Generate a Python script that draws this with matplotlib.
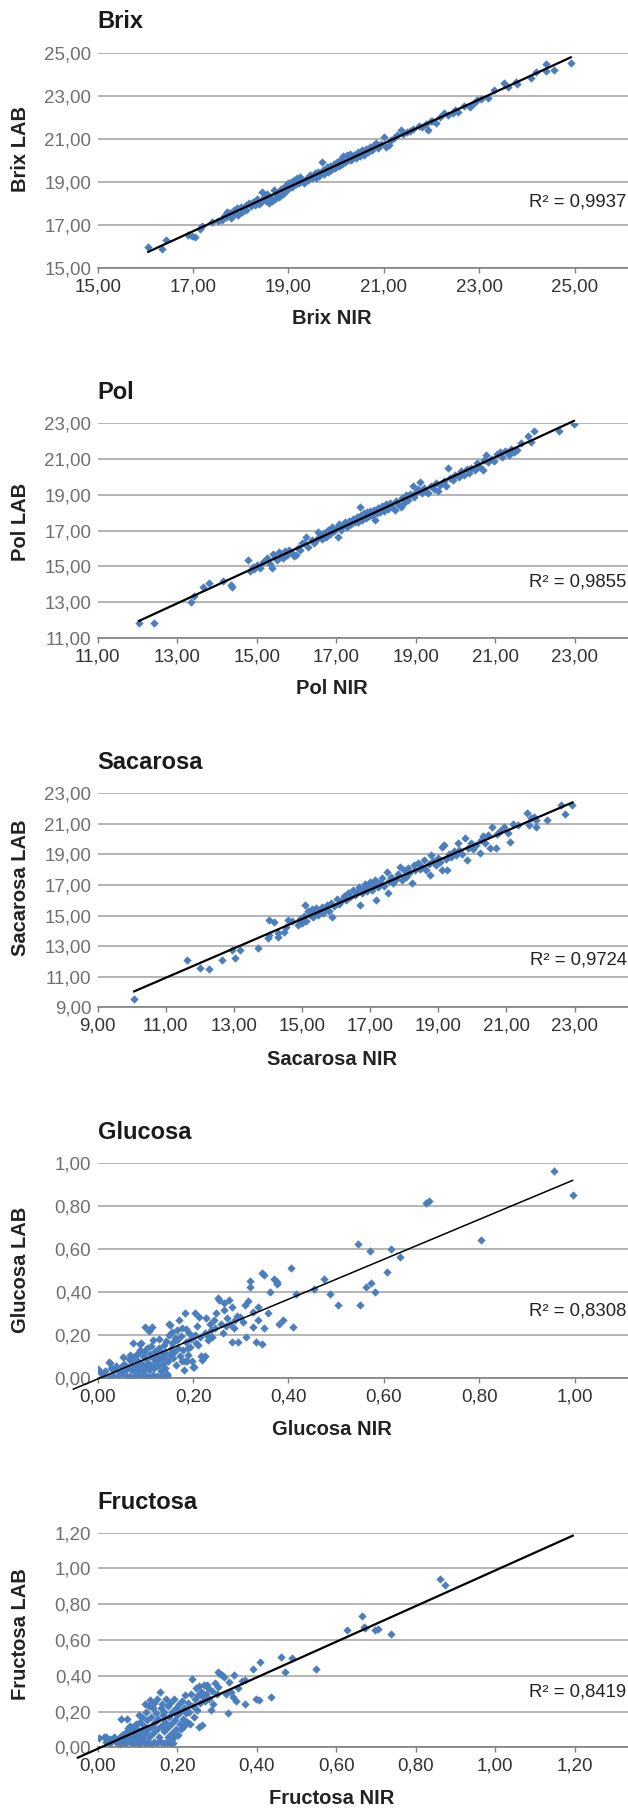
import numpy as np
import matplotlib
matplotlib.use("Agg")
import matplotlib.pyplot as plt
from matplotlib.ticker import FuncFormatter

plt.rcParams['font.family'] = ['Liberation Sans', 'DejaVu Sans']

# ---- data: (NIR, LAB) ----
brix_pts = [
    (16.06,15.98),(16.35,15.88),(16.44,16.30),(16.90,16.53),(16.98,16.50),(17.05,16.47),(17.15,16.82),(17.18,16.95),
    (17.40,17.17),(17.52,17.20),(17.61,17.25),(17.65,17.45),(17.70,17.40),(17.72,17.62),(17.78,17.55),(17.80,17.35),
    (17.85,17.70),(17.88,17.52),(17.92,17.80),(17.95,17.48),(18.00,17.85),(18.02,17.62),(18.05,17.75),(18.10,17.95),
    (18.12,17.70),(18.18,18.05),(18.22,17.88),(18.25,18.10),(18.30,17.95),(18.35,18.20),(18.38,17.98),(18.42,18.10),
    (18.45,18.57),(18.48,18.30),(18.52,18.15),(18.55,18.45),(18.60,18.05),(18.62,18.30),(18.66,18.15),(18.70,18.65),
    (18.72,18.20),(18.75,18.40),(18.80,18.30),(18.82,18.55),(18.85,18.70),(18.88,18.45),(18.92,18.85),(18.95,18.60),
    (19.00,18.95),(19.02,18.72),(19.05,19.02),(19.08,18.80),(19.12,19.10),(19.15,18.90),(19.18,19.18),(19.22,18.95),
    (19.25,19.25),(19.30,19.05),(19.33,18.95),(19.38,19.20),(19.42,19.10),(19.45,19.35),(19.50,19.22),(19.55,19.45),
    (19.58,19.18),(19.62,19.50),(19.65,19.30),(19.71,19.93),(19.72,19.55),(19.75,19.40),(19.80,19.70),(19.82,19.50),
    (19.88,19.75),(19.90,19.58),(19.95,19.85),(19.98,19.65),(20.02,19.95),(20.05,19.78),(20.10,20.10),(20.12,19.85),
    (20.15,20.20),(20.18,19.95),(20.22,20.25),(20.25,20.02),(20.30,20.30),(20.32,20.05),(20.38,20.28),(20.42,20.12),
    (20.45,20.42),(20.50,20.20),(20.55,20.48),(20.58,20.25),(20.62,20.55),(20.66,20.40),(20.72,20.62),(20.75,20.50),
    (20.80,20.75),(20.84,20.84),(20.88,20.60),(20.95,20.80),(21.01,21.12),(21.05,20.66),(21.10,20.75),(21.15,20.95),
    (21.22,21.05),(21.28,21.20),(21.35,21.43),(21.40,21.25),(21.48,21.35),(21.55,21.40),(21.62,21.50),(21.73,21.62),
    (21.80,21.55),(21.88,21.72),(21.93,21.43),(21.98,21.85),(22.02,21.87),(22.10,21.75),(22.18,22.05),(22.27,22.21),
    (22.35,22.15),(22.44,22.21),(22.50,22.35),(22.55,22.25),(22.69,22.55),(22.80,22.50),(22.90,22.67),(22.95,22.85),
    (23.03,22.86),(23.19,22.91),(23.32,23.29),(23.53,23.64),(23.60,23.42),(23.78,23.68),(23.80,23.58),(24.08,23.87),
    (24.20,24.12),(24.41,24.49),(24.41,24.19),(24.56,24.22),(24.92,24.57),
]

pol_pts = [
    (12.04,11.87),(12.42,11.83),(13.34,13.00),(13.41,13.36),(13.66,13.88),(13.80,14.06),(14.15,14.21),(14.36,13.97),
    (14.38,13.88),(14.77,15.36),(14.84,14.77),(14.90,14.95),(14.94,14.84),(15.00,15.10),(15.09,14.90),(15.15,15.25),
    (15.25,15.45),(15.34,15.14),(15.39,14.90),(15.42,15.70),(15.45,15.55),(15.50,15.35),(15.55,15.80),(15.60,15.60),
    (15.65,15.45),(15.70,15.85),(15.75,15.65),(15.82,15.90),(15.88,15.75),(15.95,15.60),(16.00,15.64),(16.05,16.05),
    (16.10,15.90),(16.15,16.30),(16.20,16.29),(16.25,16.66),(16.30,16.10),(16.38,16.45),(16.45,16.30),(16.50,16.47),
    (16.55,16.94),(16.60,16.70),(16.65,16.55),(16.70,16.85),(16.75,16.65),(16.80,17.05),(16.85,16.80),(16.90,17.20),
    (16.95,16.95),(17.00,17.15),(17.05,16.66),(17.08,17.35),(17.12,17.05),(17.18,17.30),(17.22,17.50),(17.28,17.20),
    (17.32,17.55),(17.38,17.35),(17.42,17.65),(17.48,17.45),(17.52,17.75),(17.56,17.50),(17.61,18.33),(17.62,17.85),
    (17.66,17.60),(17.70,17.95),(17.74,17.70),(17.78,18.05),(17.82,17.80),(17.86,18.10),(17.90,17.85),(17.95,18.15),
    (17.98,17.59),(18.03,17.95),(18.06,18.24),(18.10,18.05),(18.15,18.35),(18.20,18.10),(18.25,18.45),(18.30,18.20),
    (18.35,18.55),(18.40,18.30),(18.47,18.14),(18.50,18.65),(18.55,18.45),(18.62,18.33),(18.65,18.80),(18.70,18.55),
    (18.75,18.95),(18.80,18.70),(18.85,19.05),(18.92,19.48),(18.95,18.85),(19.00,19.15),(19.05,19.30),(19.12,19.72),
    (19.15,19.10),(19.22,19.35),(19.28,19.15),(19.32,19.07),(19.38,19.50),(19.45,19.30),(19.52,19.65),(19.57,19.22),
    (19.62,19.55),(19.70,19.75),(19.75,19.45),(19.81,20.46),(19.85,19.90),(19.93,19.81),(20.00,20.10),(20.08,19.95),
    (20.15,20.30),(20.22,20.10),(20.28,20.40),(20.33,20.18),(20.40,20.50),(20.48,20.35),(20.55,20.75),(20.62,20.55),
    (20.68,20.37),(20.72,20.90),(20.78,21.20),(20.82,20.80),(20.90,21.00),(20.98,20.85),(21.05,21.25),(21.12,21.35),
    (21.18,21.11),(21.25,21.40),(21.34,21.20),(21.40,21.55),(21.48,21.35),(21.54,21.48),(21.64,21.89),(21.82,22.26),
    (21.89,21.95),(21.97,22.54),(22.60,22.54),(22.98,22.93),
]

sacarosa_pts = [
    (10.07,9.52),(11.61,12.10),(12.01,11.55),(12.28,11.51),(12.66,12.10),(12.95,12.75),(13.03,12.25),(13.18,12.75),
    (13.71,12.86),(14.03,14.71),(14.01,13.51),(14.03,13.73),(14.18,14.60),(14.30,13.62),(14.30,13.84),(14.48,13.95),
    (14.54,14.28),(14.60,14.71),(14.70,14.65),(14.89,14.38),(14.95,14.80),(15.01,14.49),(15.05,14.95),(15.09,15.69),
    (15.12,14.65),(15.18,15.30),(15.22,15.05),(15.28,15.45),(15.32,14.90),(15.38,15.20),(15.42,15.50),(15.48,15.05),
    (15.52,15.35),(15.58,15.55),(15.62,15.15),(15.68,15.47),(15.72,15.70),(15.78,15.30),(15.85,15.80),(15.89,14.93),
    (15.95,15.60),(16.02,16.10),(16.08,15.75),(16.15,15.95),(16.22,16.30),(16.30,16.00),(16.36,16.45),(16.42,16.20),
    (16.50,16.65),(16.55,16.35),(16.62,16.55),(16.68,16.90),(16.71,15.69),(16.75,16.45),(16.80,16.75),(16.85,17.05),
    (16.90,16.60),(16.95,16.95),(17.00,17.20),(17.05,16.70),(17.10,17.00),(17.15,17.30),(17.18,16.02),(17.22,16.85),
    (17.28,17.15),(17.35,17.45),(17.40,16.95),(17.48,17.87),(17.51,16.46),(17.55,17.25),(17.62,17.55),(17.68,17.10),
    (17.75,17.40),(17.82,17.70),(17.89,18.20),(17.92,17.30),(17.98,17.95),(18.05,17.55),(18.10,18.10),(18.15,17.80),
    (18.24,17.11),(18.28,18.30),(18.32,17.95),(18.40,18.45),(18.45,18.05),(18.52,18.20),(18.59,18.64),(18.65,18.00),
    (18.72,18.40),(18.77,17.65),(18.80,18.95),(18.85,18.55),(18.92,18.30),(18.98,18.75),(19.05,18.50),(19.12,17.98),
    (19.12,19.51),(19.18,19.62),(19.22,18.70),(19.27,17.98),(19.30,19.05),(19.38,18.85),(19.45,19.20),(19.52,18.95),
    (19.59,19.73),(19.62,19.30),(19.70,19.05),(19.77,20.05),(19.83,18.64),(19.88,19.45),(19.95,19.75),(20.02,19.35),
    (20.10,19.65),(20.21,19.07),(20.24,19.94),(20.30,20.20),(20.38,19.75),(20.45,20.25),(20.53,19.40),(20.59,20.82),
    (20.68,19.40),(20.72,20.35),(20.80,20.55),(20.94,20.82),(21.06,20.38),(21.12,19.83),(21.20,21.00),(21.35,20.95),
    (21.59,21.69),(21.65,20.92),(21.72,21.40),(21.82,21.47),(21.88,20.82),(21.88,21.25),(22.18,21.25),(22.59,22.23),
    (22.73,21.62),(22.94,22.23),
]

glucosa_pts = [
    (-0.051,0.000),
    (0.012,0.008),(0.022,0.004),(0.031,0.012),(0.043,0.006),(0.052,0.015),(0.061,0.003),(0.068,0.010),(0.077,0.005),
    (0.086,0.014),(0.093,0.002),(0.101,0.009),(0.108,0.004),(0.117,0.012),(0.124,0.006),(0.131,0.003),(0.138,0.010),
    (0.146,0.007),(0.145,0.018),
    (0.000,0.039),(0.005,0.025),(0.015,0.030),(0.024,0.075),(0.025,0.068),(0.028,0.045),(0.035,0.035),(0.038,0.055),
    (0.045,0.025),(0.048,0.048),(0.054,0.098),(0.055,0.065),(0.058,0.032),(0.062,0.052),(0.065,0.085),(0.068,0.106),
    (0.070,0.040),(0.072,0.070),(0.075,0.160),(0.076,0.095),(0.078,0.025),(0.080,0.055),(0.082,0.110),(0.084,0.080),
    (0.086,0.040),(0.088,0.130),(0.089,0.157),(0.091,0.160),(0.092,0.065),(0.094,0.100),(0.095,0.030),(0.097,0.120),
    (0.099,0.050),(0.100,0.238),(0.101,0.085),(0.103,0.140),(0.105,0.070),(0.107,0.219),(0.108,0.035),(0.109,0.110),
    (0.111,0.060),(0.112,0.150),(0.114,0.238),(0.115,0.090),(0.117,0.176),(0.118,0.045),(0.120,0.125),(0.122,0.075),
    (0.124,0.100),(0.126,0.055),(0.128,0.182),(0.129,0.140),(0.131,0.085),(0.133,0.030),(0.134,0.115),(0.136,0.065),
    (0.138,0.153),(0.139,0.095),(0.141,0.045),(0.142,0.121),(0.144,0.170),(0.145,0.013),(0.147,0.080),(0.149,0.199),
    (0.150,0.249),(0.151,0.105),(0.152,0.246),(0.154,0.135),(0.156,0.215),(0.156,0.160),(0.158,0.090),(0.160,0.120),
    (0.162,0.185),(0.164,0.060),(0.166,0.176),(0.167,0.222),(0.169,0.140),(0.171,0.269),(0.172,0.100),(0.174,0.195),
    (0.176,0.080),(0.177,0.230),(0.179,0.129),(0.181,0.036),(0.183,0.079),(0.184,0.300),(0.185,0.165),(0.186,0.229),
    (0.188,0.080),(0.189,0.106),(0.190,0.140),(0.192,0.210),(0.194,0.145),(0.196,0.180),(0.198,0.080),(0.200,0.048),
    (0.201,0.051),(0.203,0.200),(0.205,0.300),(0.207,0.160),(0.209,0.240),(0.211,0.153),(0.213,0.285),(0.215,0.192),
    (0.217,0.101),(0.219,0.082),(0.222,0.098),(0.224,0.210),(0.225,0.101),(0.228,0.277),(0.230,0.200),(0.232,0.176),
    (0.235,0.250),(0.238,0.222),(0.240,0.190),(0.244,0.269),(0.246,0.230),(0.249,0.300),(0.253,0.370),(0.255,0.362),
    (0.258,0.250),(0.262,0.210),(0.264,0.316),(0.265,0.350),(0.268,0.240),(0.272,0.280),(0.275,0.362),(0.278,0.250),
    (0.282,0.331),(0.282,0.168),(0.286,0.230),(0.288,0.270),(0.292,0.290),(0.295,0.168),(0.299,0.285),(0.305,0.260),
    (0.309,0.339),(0.311,0.188),(0.316,0.359),(0.319,0.421),(0.320,0.451),(0.326,0.238),(0.326,0.308),(0.332,0.168),
    (0.337,0.269),(0.337,0.328),(0.345,0.157),(0.345,0.490),(0.348,0.479),(0.349,0.230),(0.358,0.300),(0.362,0.400),
    (0.369,0.462),(0.376,0.435),(0.377,0.448),(0.381,0.249),(0.389,0.269),(0.406,0.510),(0.410,0.238),(0.415,0.390),
    (0.453,0.412),(0.474,0.462),(0.488,0.390),(0.503,0.339),(0.545,0.622),(0.549,0.339),(0.563,0.421),(0.572,0.593),
    (0.573,0.443),(0.581,0.401),(0.606,0.491),(0.615,0.602),(0.633,0.561),(0.689,0.813),(0.695,0.824),(0.803,0.642),
    (0.956,0.966),(0.996,0.854),
]

fructosa_pts = [
    (-0.050,0.000),
    (0.020,0.030),(0.030,0.022),(0.045,0.028),(0.055,0.020),(0.065,0.030),(0.072,0.024),(0.080,0.032),(0.088,0.022),
    (0.095,0.028),(0.103,0.020),(0.110,0.030),(0.118,0.024),(0.126,0.028),(0.134,0.021),(0.142,0.030),(0.150,0.023),
    (0.158,0.027),(0.166,0.022),(0.174,0.029),(0.182,0.024),(0.190,0.026),
    (0.003,0.050),(0.015,0.055),(0.020,0.060),(0.030,0.045),(0.040,0.058),(0.048,0.040),(0.055,0.060),(0.059,0.156),
    (0.062,0.070),(0.066,0.045),(0.070,0.085),(0.074,0.160),(0.075,0.110),(0.078,0.060),(0.082,0.120),(0.085,0.090),
    (0.088,0.050),(0.090,0.115),(0.093,0.075),(0.096,0.130),(0.098,0.040),(0.100,0.100),(0.103,0.180),(0.105,0.065),
    (0.107,0.140),(0.110,0.090),(0.112,0.170),(0.114,0.050),(0.116,0.120),(0.118,0.240),(0.120,0.080),(0.122,0.200),
    (0.124,0.150),(0.126,0.100),(0.128,0.230),(0.130,0.060),(0.132,0.264),(0.134,0.170),(0.136,0.120),(0.138,0.220),
    (0.140,0.080),(0.142,0.250),(0.144,0.140),(0.146,0.190),(0.148,0.100),(0.150,0.270),(0.152,0.160),(0.155,0.060),
    (0.157,0.311),(0.158,0.220),(0.160,0.120),(0.162,0.240),(0.164,0.180),(0.166,0.090),(0.168,0.200),(0.170,0.140),
    (0.172,0.270),(0.174,0.110),(0.176,0.230),(0.178,0.060),(0.180,0.170),(0.182,0.250),(0.184,0.130),(0.186,0.080),
    (0.188,0.200),(0.190,0.050),(0.192,0.270),(0.194,0.150),(0.196,0.100),(0.198,0.220),(0.200,0.180),(0.202,0.070),
    (0.204,0.240),(0.206,0.130),(0.208,0.200),(0.210,0.100),(0.212,0.260),(0.214,0.160),(0.216,0.220),(0.218,0.120),
    (0.220,0.290),(0.222,0.190),(0.225,0.140),(0.228,0.250),(0.230,0.200),(0.232,0.130),(0.235,0.300),(0.238,0.380),
    (0.240,0.230),(0.242,0.170),(0.245,0.270),(0.248,0.330),(0.250,0.210),(0.252,0.290),(0.255,0.340),(0.256,0.116),
    (0.258,0.250),(0.260,0.310),(0.263,0.125),(0.263,0.302),(0.265,0.280),(0.268,0.350),(0.270,0.260),(0.272,0.300),
    (0.276,0.348),(0.278,0.330),(0.280,0.270),(0.285,0.209),(0.288,0.317),(0.290,0.240),(0.295,0.360),(0.300,0.300),
    (0.303,0.339),(0.303,0.419),(0.308,0.410),(0.313,0.404),(0.318,0.391),(0.322,0.300),(0.328,0.194),(0.331,0.367),
    (0.335,0.310),(0.340,0.280),(0.344,0.404),(0.348,0.260),(0.354,0.330),(0.364,0.373),(0.371,0.376),(0.371,0.240),
    (0.391,0.436),(0.397,0.270),(0.407,0.265),(0.408,0.477),(0.436,0.281),(0.462,0.507),(0.470,0.419),(0.490,0.497),
    (0.550,0.438),(0.627,0.654),(0.664,0.734),(0.669,0.675),(0.673,0.669),(0.698,0.656),(0.704,0.663),(0.739,0.634),
    (0.862,0.939),(0.873,0.909),(1.195,1.233),
]

names = ["Brix", "Pol", "Sacarosa", "Glucosa", "Fructosa"]
r2_labels = ["0,9937", "0,9855", "0,9724", "0,8308", "0,8419"]
all_pts = [brix_pts, pol_pts, sacarosa_pts, glucosa_pts, fructosa_pts]
y_ranges = [(15, 25), (11, 23), (9, 23), (0, 1.0), (0, 1.2)]
x_max = [26.12, 24.34, 24.57, 1.112, 1.334]
tick_step = [2, 2, 2, 0.2, 0.2]

# layout, pixels from the top of a 628 x 1809 image
W, H = 628, 1809
ax_left = 97.7
ax_top = [53.3, 422.7, 793.3, 1163.3, 1532.7]
ax_bot = [268.3, 638.3, 1007.3, 1377.7, 1747.3]
title_y = [21.7, 392.3, 762.7, 1132.7, 1502.7]
xlab_y = [319, 689, 1059.3, 1429.3, 1798.3]
ylab_y = [149, 522, 887.5, 1269.5, 1634]
r2_y = [201.7, 581.7, 960, 1311, 1692.3]
trend_lw = [1.6, 1.6, 1.6, 1.1, 1.6]

blue = '#4a7ebf'
comma = FuncFormatter(lambda v, p: f"{v:.2f}".replace('.', ','))

fig = plt.figure(figsize=(W / 100, H / 100), dpi=100)

for i, name in enumerate(names):
    nir, lab = np.array(all_pts[i]).T
    ax = fig.add_axes([ax_left / W, 1 - ax_bot[i] / H, (W - ax_left) / W, (ax_bot[i] - ax_top[i]) / H])
    ax.scatter(nir, lab, marker='D', s=18, color=blue, linewidths=0, zorder=2)

    k, c = np.polyfit(nir, lab, 1)
    xs = np.array([nir.min(), nir.max()])
    ax.plot(xs, k * xs + c, color='black', lw=trend_lw[i], clip_on=False, zorder=3)

    lo, hi = y_ranges[i]
    ticks = np.arange(lo, hi + tick_step[i] / 2, tick_step[i])
    ax.set_xlim(lo, x_max[i])
    ax.set_ylim(lo, hi)
    ax.set_xticks(ticks)
    ax.set_yticks(ticks)
    ax.xaxis.set_major_formatter(comma)
    ax.yaxis.set_major_formatter(comma)

    ax.tick_params(axis='x', length=3.5, width=1, color='#808080', pad=4, labelsize=13.5, labelcolor='#333333')
    ax.tick_params(axis='y', length=0, pad=4.6, labelsize=13.5, labelcolor='#707070')
    ax.grid(axis='y', color='#a8a8a8', lw=1.2)
    ax.set_axisbelow(True)
    for s in ['top', 'right', 'left']:
        ax.spines[s].set_visible(False)
    ax.spines['bottom'].set_color('#808080')
    ax.spines['bottom'].set_linewidth(1.2)

    fig.text(ax_left / W, 1 - title_y[i] / H, name, fontsize=17, fontweight='bold',
             ha='left', va='center', color='#1a1a1a')
    fig.text(332 / W, 1 - xlab_y[i] / H, name + " NIR", fontsize=14.5, fontweight='bold',
             ha='center', va='center', color='#222222')
    fig.text(20.5 / W, 1 - ylab_y[i] / H, name + " LAB", fontsize=14.5, fontweight='bold',
             ha='center', va='center', rotation=90, color='#222222')
    fig.text(626.5 / W, 1 - r2_y[i] / H, "R² = " + r2_labels[i], fontsize=13.3,
             ha='right', va='center', color='#222222')

fig.savefig('out.png', dpi=100)
